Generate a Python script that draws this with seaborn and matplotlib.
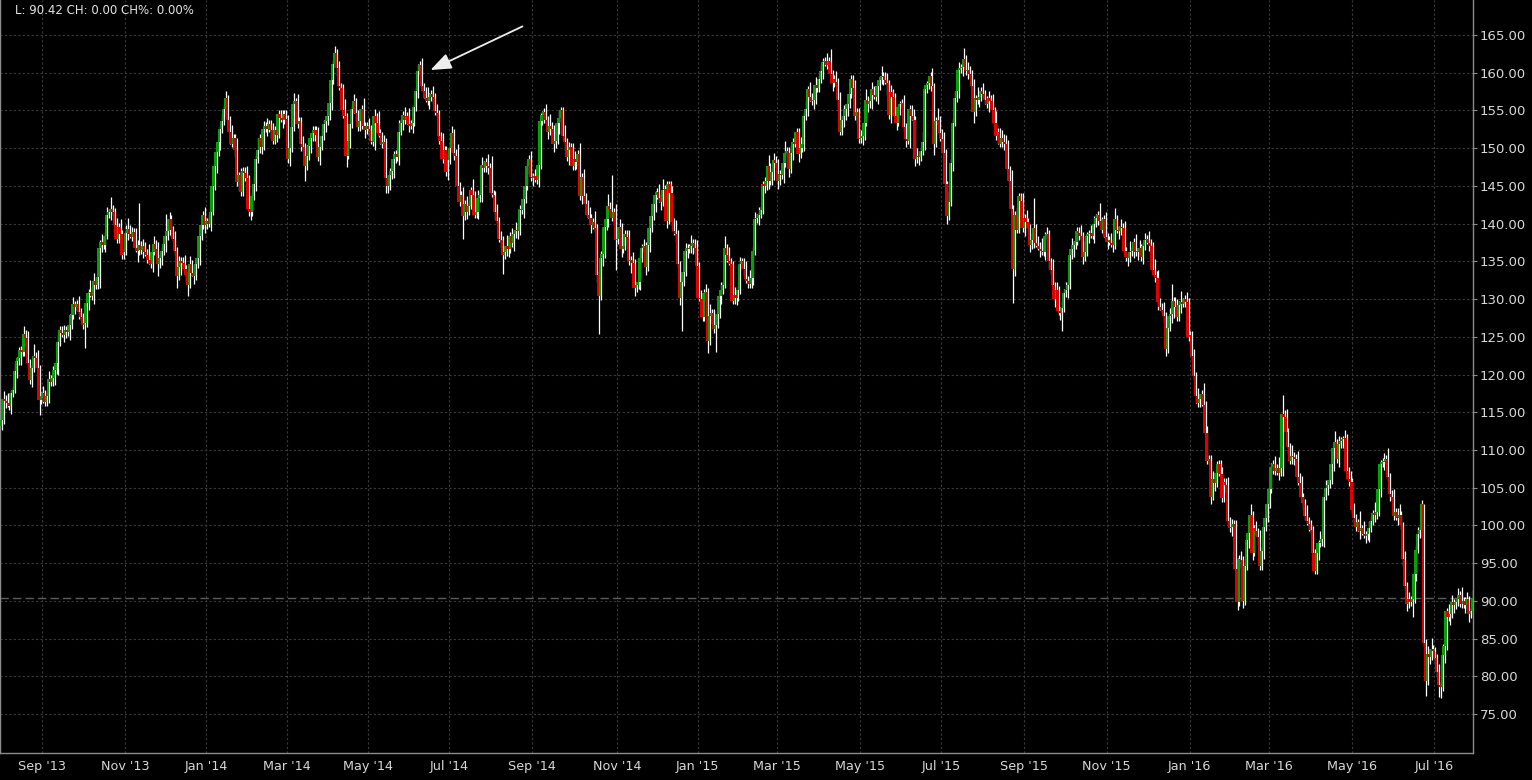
import numpy as np
import pandas as pd
import matplotlib
matplotlib.use("Agg")
import matplotlib.pyplot as plt
import seaborn as sns

# daily closes, one row per month (weekdays), Aug '13 .. Jul '16
closes = [
    114.0, 116.8, 116.5, 116.2, 115.8, 117.5, 118.0, 120.5, 121.8, 122.2, 123.3, 123.0, 125.4, 124.8, 121.5, 119.3, 120.8, 122.5, 122.2, 120.8, 116.6, 117.2,
    117.5, 116.3, 117.2, 119.4, 119.0, 119.6, 120.6, 121.5, 124.3, 125.9, 125.5, 125.3, 125.9, 125.6, 126.5, 127.9, 129.3, 129.0, 129.4, 128.3, 127.6,
    126.5, 126.8, 129.5, 130.8, 131.0, 130.4, 132.4, 131.8, 132.9, 136.8, 137.6, 137.2, 138.4, 141.2, 141.5, 142.0, 141.6, 139.8, 137.9, 139.6, 138.6, 135.8, 136.3,
    138.8, 139.3, 138.6, 138.2, 138.9, 136.8, 136.4, 137.2, 136.5, 137.0, 136.2, 135.8, 135.2, 134.6, 136.3, 137.3, 136.6, 134.6, 135.5, 136.4, 137.3,
    138.3, 139.0, 140.6, 139.2, 138.0, 136.4, 133.0, 134.2, 135.1, 134.8, 134.0, 133.2, 131.9, 134.7, 133.5, 133.0, 134.6, 135.5, 138.3, 139.8, 141.2, 139.8,
    140.3, 140.0, 141.6, 145.0, 147.7, 149.5, 150.8, 152.5, 153.6, 155.2, 156.6, 153.8, 152.1, 150.6, 151.4, 149.8, 145.5, 146.4, 144.2, 147.0, 146.7, 146.0, 142.0,
    141.5, 143.6, 145.3, 148.6, 149.8, 151.4, 150.2, 152.6, 153.0, 152.6, 153.2, 152.4, 151.0, 152.4, 151.8, 154.5, 154.0, 153.7, 154.5, 153.9,
    148.6, 150.0, 152.8, 155.8, 156.2, 153.2, 153.6, 150.6, 150.2, 147.6, 148.9, 150.3, 151.4, 152.0, 152.4, 151.8, 148.8, 150.2, 151.6, 153.2, 153.6,
    154.2, 156.0, 159.0, 161.2, 162.6, 160.6, 158.2, 158.0, 155.0, 154.2, 149.0, 151.0, 153.2, 155.2, 156.2, 154.6, 152.8, 153.6, 155.2, 153.0, 152.4, 153.0,
    152.6, 151.0, 150.8, 154.2, 153.4, 152.0, 151.6, 150.5, 150.8, 146.0, 145.0, 146.4, 147.0, 148.6, 149.2, 148.8, 152.2, 153.4, 154.4, 153.7, 154.3, 153.2,
    153.0, 153.4, 155.4, 157.6, 160.2, 161.0, 158.2, 157.6, 156.6, 156.2, 156.8, 157.2, 156.8, 154.9, 154.6, 151.6, 151.0, 148.5, 149.8, 146.8, 148.4,
    150.0, 152.0, 149.4, 149.0, 145.0, 142.9, 143.8, 141.0, 142.6, 141.6, 142.4, 144.4, 143.8, 141.2, 141.6, 143.4, 143.8, 147.8, 147.4, 148.2, 147.6, 147.4, 144.0,
    143.8, 141.6, 140.4, 138.0, 137.8, 135.8, 136.2, 137.0, 136.6, 138.4, 137.4, 138.6, 139.2, 139.0, 142.0, 141.8, 143.2, 145.0, 147.6, 148.6, 146.2,
    146.0, 146.3, 145.8, 147.8, 153.6, 154.4, 154.8, 153.8, 152.2, 153.0, 152.6, 150.5, 151.0, 153.4, 154.0, 155.0, 151.6, 150.8, 148.8, 149.8, 150.2, 147.6,
    148.6, 148.2, 149.2, 143.6, 146.2, 143.6, 142.6, 141.2, 140.8, 139.8, 140.2, 139.4, 133.2, 130.4, 135.4, 136.0, 139.6, 140.6, 142.4, 142.0, 140.8, 141.6, 137.8,
    138.0, 139.6, 136.6, 137.0, 138.6, 138.2, 135.0, 135.2, 134.8, 131.4, 131.8, 132.2, 135.4, 136.8, 137.0, 134.2, 137.2, 139.4, 141.0, 142.6,
    143.8, 144.2, 143.4, 142.8, 144.4, 144.6, 140.4, 145.2, 144.0, 140.2, 139.0, 138.6, 134.6, 130.2, 132.2, 133.6, 136.4, 136.8, 136.6, 137.0, 137.4, 136.8, 134.4,
    130.2, 130.0, 127.6, 130.8, 131.0, 124.4, 127.8, 128.2, 126.0, 126.6, 128.0, 130.4, 131.2, 131.9, 136.8, 135.9, 135.0, 134.6, 129.8, 130.6, 130.2, 131.2,
    134.6, 135.0, 134.0, 132.6, 132.4, 132.0, 132.8, 136.4, 140.6, 140.8, 141.2, 141.8, 145.2, 145.0, 145.6, 147.6, 145.6, 146.8, 148.4, 148.0,
    145.6, 146.6, 146.4, 148.0, 149.4, 149.6, 147.2, 149.4, 150.8, 150.6, 152.2, 149.2, 150.0, 150.6, 154.2, 155.2, 157.8, 156.8, 156.2, 156.4, 158.4, 158.0,
    159.2, 160.2, 161.4, 161.6, 161.0, 161.6, 159.8, 158.6, 159.2, 158.8, 156.4, 152.2, 153.8, 154.2, 155.2, 155.8, 157.2, 159.2, 158.0, 154.2, 154.8, 151.2,
    151.4, 151.6, 153.4, 156.4, 155.8, 156.2, 157.8, 157.0, 156.8, 158.2, 159.0, 159.4, 159.6, 159.0, 158.6, 154.4, 157.4, 156.8, 154.2, 153.4, 155.4,
    155.8, 156.0, 152.8, 151.2, 151.0, 155.2, 154.2, 153.8, 148.6, 149.0, 148.8, 149.6, 150.8, 157.8, 158.4, 158.6, 159.6, 158.2, 150.6, 153.6, 153.8, 152.0,
    151.2, 149.4, 145.2, 141.0, 142.8, 148.0, 153.4, 156.6, 157.6, 160.4, 160.6, 160.8, 161.8, 160.2, 160.4, 159.8, 158.2, 154.8, 156.6, 156.4, 156.8, 157.6, 157.2,
    156.4, 155.8, 156.6, 156.2, 155.0, 153.4, 151.6, 152.2, 150.6, 151.4, 150.8, 150.6, 147.2, 145.6, 142.0, 134.0, 141.2, 139.2, 143.6, 143.0, 139.4,
    140.8, 140.2, 139.4, 137.2, 137.8, 139.4, 137.4, 137.0, 136.6, 136.4, 136.2, 138.4, 138.6, 135.0, 133.8, 131.8, 130.0, 131.2, 128.4, 128.2, 128.8, 130.8,
    131.2, 131.8, 135.8, 136.6, 137.2, 137.6, 139.0, 138.8, 138.4, 135.6, 136.2, 138.4, 138.6, 138.8, 138.4, 140.0, 140.8, 141.2, 140.4, 139.2, 140.6, 138.2,
    137.6, 137.8, 137.4, 137.2, 140.6, 139.2, 139.0, 139.6, 139.4, 136.4, 135.6, 135.4, 136.2, 136.4, 137.6, 136.2, 136.2, 136.8, 135.6, 137.0, 137.8,
    138.0, 137.4, 137.0, 133.8, 133.2, 132.8, 129.6, 129.0, 128.6, 127.8, 123.4, 126.2, 127.8, 128.0, 129.8, 129.0, 127.6, 129.2, 129.6, 129.4, 130.0, 129.6, 125.0,
    125.2, 122.4, 119.8, 117.2, 116.2, 116.8, 117.4, 116.0, 112.2, 108.6, 108.8, 103.8, 106.2, 105.6, 107.0, 108.2, 106.8, 103.6, 105.8, 105.4, 100.6,
    99.6, 99.8, 100.2, 94.2, 89.8, 95.6, 95.4, 90.0, 94.6, 98.0, 99.0, 101.4, 96.4, 99.6, 99.2, 98.4, 94.6, 96.6, 99.8, 101.0, 102.8,
    104.8, 107.8, 108.2, 107.2, 107.6, 107.0, 107.6, 114.8, 114.4, 112.4, 110.4, 108.6, 109.2, 109.0, 108.8, 106.4, 105.6, 103.8, 103.0, 101.2, 100.6, 100.2, 99.4,
    96.4, 94.0, 96.4, 97.6, 97.8, 98.2, 103.8, 105.0, 105.4, 106.0, 108.2, 110.2, 111.0, 108.8, 110.8, 111.2, 111.4, 111.6, 107.2, 106.2, 105.8,
    102.0, 101.0, 99.8, 100.4, 99.2, 99.6, 98.8, 98.6, 98.8, 99.6, 100.6, 101.6, 101.4, 101.8, 104.8, 108.2, 108.4, 108.6, 108.8, 106.4, 104.2, 103.8,
    101.2, 101.8, 101.0, 101.4, 100.0, 95.6, 92.0, 89.6, 90.2, 89.8, 90.2, 93.6, 96.8, 98.8, 99.4, 102.8, 84.4, 79.4, 83.0, 82.6, 83.6, 83.4,
    82.4, 80.6, 78.8, 78.6, 82.8, 84.0, 88.6, 87.8, 88.2, 89.8, 89.4, 89.8, 90.2, 90.8, 89.6, 90.0, 89.4, 90.2, 88.2, 88.6, 90.42,
]

# upper / lower shadows beyond the body, in half points
wick_up_half = [
    1,2,1,2,2,1,1,2,1,3,1,1,2,1,2,1,1,3,1,2,1,1,
    2,1,1,2,1,3,1,1,2,1,1,2,1,1,3,1,2,1,1,2,1,
    1,2,1,1,3,1,2,1,1,2,2,1,1,2,1,3,1,1,2,1,2,1,1,
    2,3,1,2,1,1,2,11,1,2,1,1,3,1,1,2,1,2,1,1,2,
    6,1,2,1,1,2,1,3,1,1,2,1,1,2,1,2,1,1,3,1,1,2,
    1,2,1,1,2,1,3,1,2,1,2,1,1,2,1,1,3,1,2,1,1,2,1,
    1,1,2,1,3,1,1,2,1,2,1,1,2,1,3,1,1,2,1,1,
    1,2,1,3,1,2,1,1,2,1,3,1,1,2,1,1,2,1,2,1,1,
    1,1,2,1,2,1,2,1,1,3,1,2,1,1,2,1,1,2,1,3,1,1,
    2,1,1,2,1,3,1,1,2,1,1,2,1,2,1,1,3,1,1,2,1,2,
    1,2,1,1,2,1,2,1,1,3,1,1,2,1,2,1,1,2,1,1,2,
    1,2,1,1,3,1,1,2,1,2,1,1,3,1,1,2,1,2,1,1,2,1,3,
    1,1,2,1,2,1,1,3,1,1,2,1,2,1,1,2,1,3,1,1,2,
    1,2,1,1,2,1,1,2,1,3,1,1,2,1,2,1,1,3,1,2,1,1,
    2,1,1,3,1,2,1,1,2,1,1,3,1,1,2,1,2,1,3,1,9,1,2,
    1,2,1,3,1,1,2,1,2,1,1,3,1,1,2,1,2,1,1,2,
    1,1,2,1,3,1,2,1,1,2,1,3,1,1,2,1,2,1,1,3,1,1,2,
    1,2,1,1,2,1,3,1,1,2,1,1,2,1,3,1,2,1,1,2,1,1,
    2,1,1,2,1,3,1,1,2,1,2,1,1,2,1,3,1,1,2,1,
    1,1,2,1,3,1,1,2,1,2,1,1,3,1,1,2,1,2,1,1,2,1,
    1,2,1,1,2,1,3,1,1,2,1,2,1,3,1,1,2,1,1,2,1,1,
    2,1,1,3,1,1,2,1,2,1,1,3,1,1,2,1,2,1,1,2,1,
    1,1,2,1,3,1,1,2,1,2,1,1,3,1,1,2,1,2,1,1,3,1,
    1,2,1,1,3,1,1,2,1,2,1,1,3,1,2,1,1,2,1,3,1,1,2,
    1,1,2,1,2,1,3,1,1,2,1,2,1,1,3,1,1,2,1,1,2,
    1,2,1,1,2,8,1,2,1,3,1,1,2,1,1,3,1,2,1,1,2,1,
    2,1,1,3,1,2,1,1,2,1,3,1,1,2,1,2,1,1,3,1,1,2,
    1,1,2,1,3,1,1,2,1,2,1,1,3,1,1,2,1,2,1,1,2,
    1,2,1,1,3,1,2,1,1,2,1,1,2,8,1,1,2,1,3,1,1,2,1,
    1,1,2,1,2,1,1,3,1,2,1,1,2,1,3,1,1,2,1,1,2,
    1,2,1,1,3,1,2,1,1,2,1,3,1,1,2,1,2,1,1,3,1,
    2,1,1,2,1,3,1,5,1,2,1,1,3,1,1,2,1,2,1,1,3,1,1,
    1,1,2,1,3,1,1,2,1,2,1,1,3,1,2,1,1,2,1,1,2,
    1,2,1,1,3,1,2,1,1,2,1,1,3,1,2,1,1,2,1,3,1,1,
    2,1,1,3,1,1,2,1,2,1,1,3,1,2,1,1,0,1,2,1,3,1,
    1,1,2,1,3,1,1,2,1,2,1,1,3,1,2,1,1,2,1,1,2,
]
wick_dn_half = [
    1,1,2,1,1,2,1,1,2,1,2,1,1,2,1,1,2,1,1,2,4,1,
    2,1,1,2,1,1,2,1,3,1,1,2,1,1,2,1,1,2,1,2,1,
    1,6,1,2,1,1,2,1,1,3,1,1,2,1,1,2,1,2,1,1,3,1,1,
    1,2,1,1,2,1,3,1,1,2,1,2,1,1,2,1,1,3,1,2,1,
    2,1,1,2,1,1,3,1,2,1,1,2,3,1,1,2,1,1,2,1,1,2,
    1,1,2,1,1,2,1,2,1,1,2,1,3,1,1,2,1,2,1,1,2,1,2,
    2,1,1,2,1,1,2,1,1,2,1,2,1,1,2,1,1,2,1,1,
    1,2,1,1,2,1,1,2,1,4,1,1,2,1,2,1,1,2,1,1,2,
    1,1,2,1,1,2,1,1,2,1,3,1,2,1,1,2,1,1,2,1,2,1,
    2,1,1,2,1,1,2,1,1,4,2,1,1,2,1,1,2,1,2,1,1,2,
    1,2,1,1,2,1,1,2,1,1,2,1,2,1,1,2,1,1,2,1,2,
    1,1,2,1,2,1,1,6,1,2,1,1,2,1,1,2,1,2,1,1,2,1,1,
    1,2,1,1,2,5,1,1,2,1,1,2,1,2,1,1,2,1,1,2,1,
    2,1,1,2,1,1,2,1,2,1,1,2,1,1,3,1,1,2,1,2,1,1,
    1,2,1,1,2,1,2,1,1,2,1,1,2,10,1,2,1,1,2,1,1,2,8,
    1,1,2,1,1,2,1,3,1,2,1,1,2,1,1,2,1,2,1,1,
    2,1,1,2,1,1,2,1,2,1,1,2,1,2,9,1,1,2,1,1,2,1,1,
    1,2,1,1,2,3,1,2,1,6,1,1,2,1,1,2,1,2,1,1,2,1,
    1,1,2,1,2,1,1,2,1,1,2,1,1,2,1,2,1,1,2,1,
    2,1,1,2,1,1,2,1,2,1,1,2,1,1,2,1,2,1,1,2,1,1,
    1,1,2,1,1,2,1,2,1,1,3,1,1,2,1,2,1,1,2,1,2,1,
    1,2,1,1,2,1,2,1,1,2,1,1,2,1,3,1,2,1,1,2,1,
    2,1,1,2,1,2,1,1,2,1,2,1,1,2,1,1,2,1,3,1,1,2,
    1,2,1,2,1,1,2,1,1,2,1,2,1,1,2,1,1,3,1,1,2,1,1,
    1,1,2,1,1,2,1,2,1,1,2,1,1,2,1,9,2,1,1,2,1,
    2,1,1,2,1,2,1,1,2,1,1,2,1,2,1,1,2,1,1,2,5,1,
    1,2,1,1,2,1,1,2,1,2,1,1,2,1,1,2,1,2,1,1,2,1,
    2,1,1,2,1,1,2,1,2,1,1,2,1,1,2,1,2,1,1,2,1,
    1,2,1,1,2,1,2,1,1,2,2,1,1,2,1,2,1,1,2,1,1,2,1,
    2,1,1,2,1,1,2,1,2,1,1,2,1,2,1,1,2,1,1,2,1,
    1,2,1,2,2,1,2,2,1,1,2,1,2,1,1,2,1,1,2,1,1,
    1,1,2,1,1,2,1,2,1,1,2,1,1,2,1,2,1,1,2,1,1,2,1,
    2,1,1,2,1,1,2,1,2,1,1,2,1,1,2,1,2,1,1,2,1,
    1,2,1,1,2,1,1,2,1,2,1,1,2,1,1,2,1,2,1,1,2,1,
    1,1,2,1,1,2,1,2,1,1,4,1,2,1,1,2,1,4,1,2,1,1,
    1,1,3,3,1,2,1,1,2,1,2,1,1,2,1,1,2,1,2,1,1,
]
first_open = 113.2
last_price = 90.42
header = "L: 90.42 CH: 0.00 CH%: 0.00%"
y_ticks = list(range(75, 170, 5))

n = min(len(closes), len(wick_up_half), len(wick_dn_half))
close = np.array(closes[:n])
open_ = np.r_[first_open, close[:-1]]
top = np.maximum(open_, close)
bot = np.minimum(open_, close)
high = top + np.array(wick_up_half[:n]) * 0.5
low = bot - np.array(wick_dn_half[:n]) * 0.5
dates = pd.bdate_range("2013-08-01", periods=n)
x = np.arange(n)

sns.set_theme(style="dark", rc={
    "figure.facecolor": "#000000",
    "axes.facecolor": "#000000",
    "axes.edgecolor": "#8c8c8c",
    "grid.color": "#3a3a3a",
})
plt.rcParams["font.family"] = ["DejaVu Sans"]

fig = plt.figure(figsize=(15.32, 7.80), dpi=100)
ax = fig.add_axes([0.0, 27 / 780, 1473 / 1532, 753 / 780])

GREEN = "#08a008"
RED = "#e00000"
up = close >= open_
body = np.maximum(top - bot, 0.15)
# shadows sit just right of the body, drawn under the bodies
ax.vlines(x + 0.5, low, high, colors="white", linewidth=0.9, zorder=2)
ax.bar(x[up] - 0.1, body[up], bottom=bot[up], width=1.3, color=GREEN, linewidth=0, zorder=3)
ax.bar(x[~up] - 0.1, body[~up], bottom=bot[~up], width=1.3, color=RED, linewidth=0, zorder=3)

ax.axhline(last_price, color="#5c5c5c", linestyle=(0, (6, 3)), linewidth=1.0, zorder=1)

# month ticks (every second month)
tick_pos, tick_lab = [], []
for i, d in enumerate(dates):
    if i > 0 and d.month != dates[i - 1].month and d.month % 2 == 1:
        tick_pos.append(i)
        tick_lab.append(d.strftime("%b '%y"))

ax.set_xlim(-0.5, n - 0.5)
ax.set_ylim(69.83, 169.64)
ax.set_xticks(tick_pos)
ax.set_xticklabels(tick_lab)
ax.set_yticks(y_ticks)
ax.set_yticklabels([f"{v:.2f}" for v in y_ticks])
ax.yaxis.tick_right()
ax.tick_params(axis="x", length=0, pad=5, colors="#d8d8d8", labelsize=9.2)
ax.tick_params(axis="y", length=3, width=0.8, pad=2, colors="#8c8c8c", labelcolor="#d8d8d8", labelsize=9.5)

ax.grid(True, color="#3a3a3a", linestyle=(0, (2, 2)), linewidth=0.8)
ax.set_axisbelow(True)
for side in ["left", "bottom", "right"]:
    ax.spines[side].set_visible(True)
    ax.spines[side].set_color("#8c8c8c")
    ax.spines[side].set_linewidth(1.0)
ax.spines["top"].set_visible(False)

ax.annotate("", xy=(226.7, 160.2), xytext=(278.2, 166.3),
            arrowprops=dict(arrowstyle="-|>,head_length=0.9,head_width=0.35",
                            color="#eeeeee", lw=1.3, mutation_scale=14))

fig.text(15 / 1532, 1 - 11 / 780, header, color="#e6e6e6", fontsize=8.5, va="center", ha="left")

fig.savefig("out.png", dpi=100, facecolor=fig.get_facecolor())
